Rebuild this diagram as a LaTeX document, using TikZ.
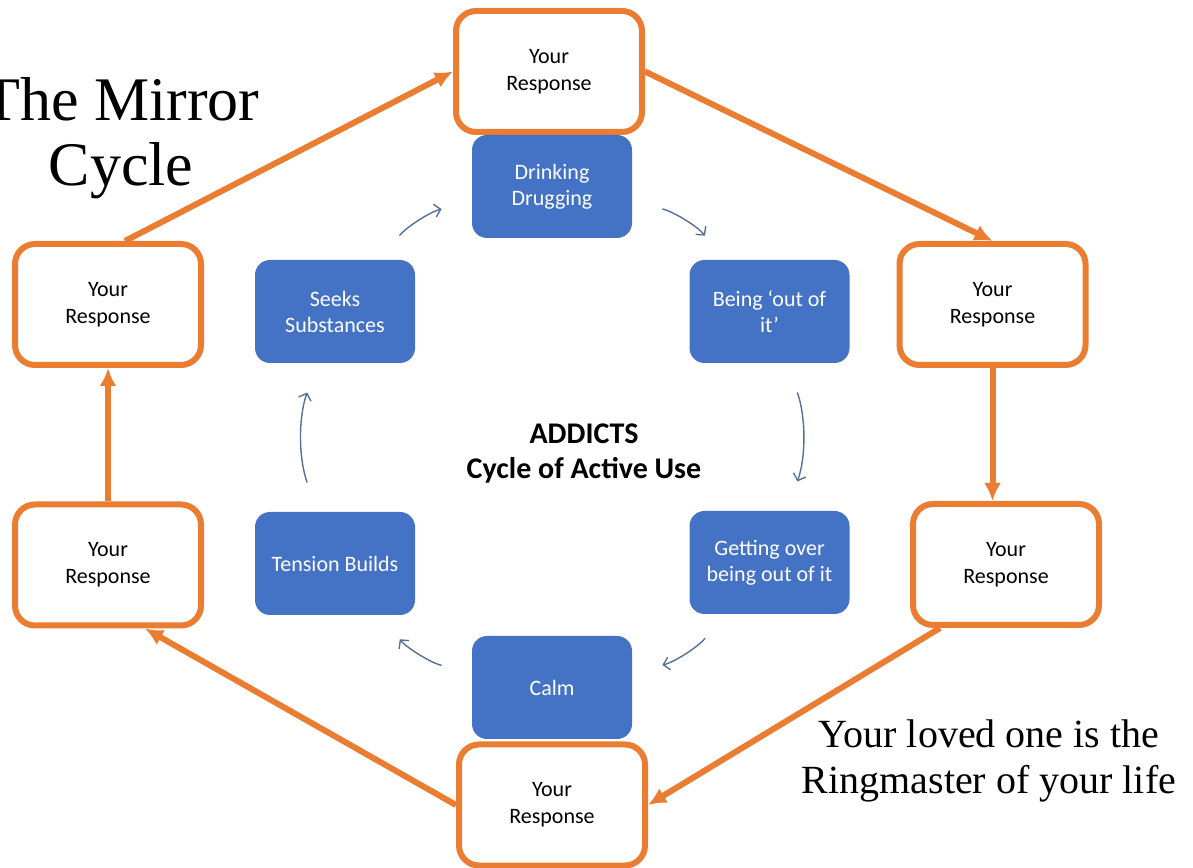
\documentclass[tikz,border=0pt]{standalone}
\usepackage{fontspec}
\setmainfont{Carlito}
\newfontfamily\titlefont{Liberation Serif}
\usetikzlibrary{arrows.meta, positioning}
\definecolor{respline}{RGB}{234,125,49}
\definecolor{usefill}{RGB}{68,114,196}
\definecolor{cycleline}{RGB}{84,112,150}

\begin{document}
\begin{tikzpicture}
    [
        x=1pt, y=1pt,
        response/.style={draw=respline, fill=white, line width=6pt, rounded corners=20pt,
            minimum width=186pt, minimum height=121pt, align=center,
            font=\fontsize{22}{27}\selectfont},
        stage/.style={fill=usefill, text=white, rounded corners=15pt,
            minimum width=160pt, minimum height=103pt, align=center,
            font=\fontsize{22}{26}\selectfont}
    ]
    \tikzstyle{line} = [draw=respline, line width=6pt, -{Latex[length=18pt,width=17pt]}]
    \tikzstyle{turn} = [draw=cycleline, line width=1.4pt, -{Straight Barb[length=6pt,width=13pt]},
        bend left=19, shorten <=31pt, shorten >=31pt]

    \useasboundingbox (0,0) rectangle (1193,867);

    % Titles
    \node[align=center, font=\titlefont\fontsize{62}{65}\selectfont] (title) at (121,728.5) {The Mirror\\Cycle};
    \node[align=center, font=\bfseries\fontsize{30}{35}\selectfont] (addicts) at (584,413) {ADDICTS\\Cycle of Active Use};
    \node[align=center, font=\titlefont\fontsize{40}{46}\selectfont] (ringmaster) at (989,106) {Your loved one is the\\Ringmaster of your life};

    % Your responses
    \begin{scope}
        \node[response] (top) at (549,795.5) {Your\\Response};
        \node[response] (ur) at (992.5,562.5) {Your\\Response};
        \node[response] (lr) at (1006,302.5) {Your\\Response};
        \node[response] (bot) at (552,62) {Your\\Response};
        \node[response] (ll) at (108,302) {Your\\Response};
        \node[response] (ul) at (108,562.5) {Your\\Response};

        \path[line] ([xshift=17pt]ul.north) -- (top.west);
        \path[line] (top.east) -- (ur.north);
        \path[line] (ur.south) -- (ur.south |- lr.north);
        \path[line] ([xshift=-66pt]lr.south) -- (bot.east);
        \path[line] (bot.west) -- ([xshift=37pt]ll.south);
        \path[line] (ll.north) -- (ul.south);
    \end{scope}

    % Cycle of active use
    \begin{scope}
        \node[stage] (drink) at (552,680.5) {Drinking\\Drugging};
        \node[stage] (being) at (769.5,555.5) {Being ‘out of\\it’};
        \node[stage] (getting) at (769.5,304.5) {Getting over\\being out of it};
        \node[stage] (calm) at (552,179.5) {Calm};
        \node[stage] (tension) at (335,303.5) {Tension Builds};
        \node[stage] (seeks) at (335,555.5) {Seeks\\Substances};

        \path[turn] (drink) to (being);
        \path[turn] (being) to (getting);
        \path[turn] (getting) to (calm);
        \path[turn] (calm) to (tension);
        \path[turn] (tension) to (seeks);
        \path[turn] (seeks) to (drink);
    \end{scope}

\end{tikzpicture}
\end{document}
